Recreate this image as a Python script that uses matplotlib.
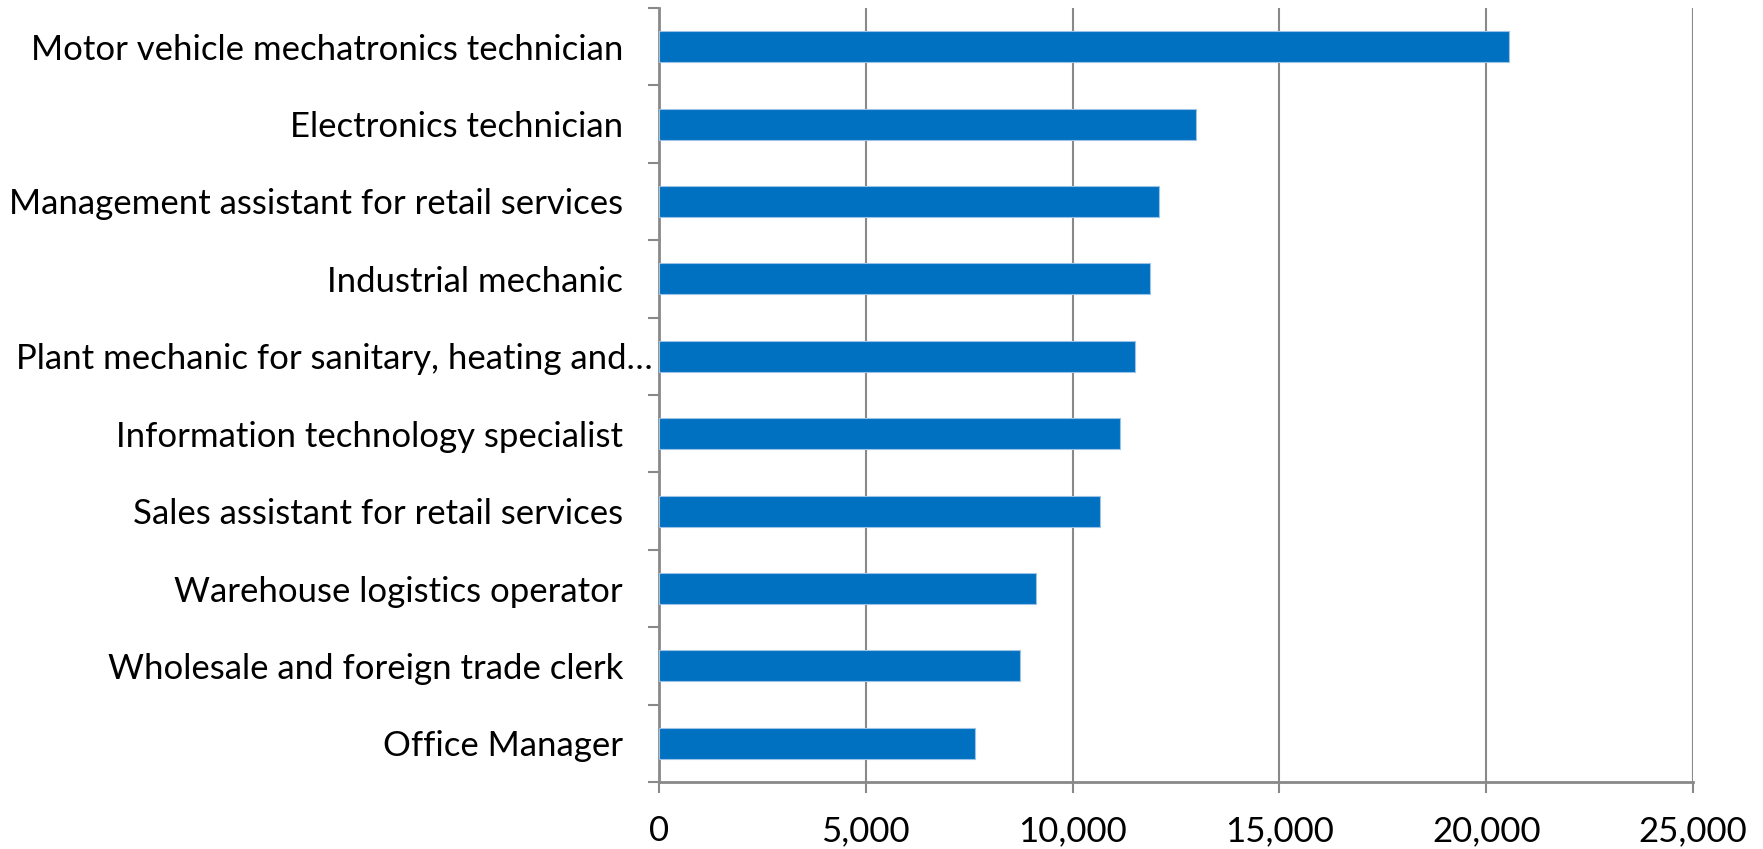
import matplotlib
matplotlib.use("Agg")
import matplotlib.pyplot as plt
import matplotlib.transforms as mtransforms
from matplotlib.ticker import FuncFormatter, FixedLocator

categories = [
    "Motor vehicle mechatronics technician",
    "Electronics technician",
    "Management assistant for retail services",
    "Industrial mechanic",
    "Plant mechanic for sanitary, heating and\u2026",
    "Information technology specialist",
    "Sales assistant for retail services",
    "Warehouse logistics operator",
    "Wholesale and foreign trade clerk",
    "Office Manager",
]
values = [20556, 12995, 12081, 11863, 11500, 11137, 10667, 9116, 8730, 7645]
x_ticks = [0, 5000, 10000, 15000, 20000, 25000]

W, H = 1763, 849
fig = plt.figure(figsize=(W / 100, H / 100), dpi=100)
ax = fig.add_axes([659 / W, (H - 782) / H, 1034 / W, 774 / H])

grey = "#898989"
font = "Lato"
fs = 25

pos = list(range(len(categories)))
ax.barh(pos, values, height=0.4, color="#0070C0", edgecolor="#9CC3E6", linewidth=0.8, zorder=3)

ax.set_xlim(0, 25000)
ax.set_ylim(len(categories) - 0.5, -0.5)
ax.xaxis.set_major_locator(FixedLocator(x_ticks))
ax.xaxis.set_major_formatter(FuncFormatter(lambda v, p: f"{int(v):,}"))
ax.grid(axis="x", color=grey, linewidth=1.5, zorder=0)

ax.set_yticks(pos)
ax.set_yticklabels(categories, fontfamily=font, fontsize=fs)
ax.set_yticks([p - 0.5 for p in pos] + [len(pos) - 0.5], minor=True)
ax.tick_params(axis="y", which="major", length=0, pad=26)
ax.tick_params(axis="y", which="minor", length=8, width=1.5, color=grey)
ax.tick_params(axis="x", which="major", length=8, width=1.5, color=grey, pad=16,
               labelsize=fs)
for lab in ax.get_xticklabels():
    lab.set_fontfamily(font)

# truncated label sits closer to the axis, as in the reference
lab = ax.get_yticklabels()[4]
lab.set_transform(lab.get_transform() + mtransforms.ScaledTranslation(0.30, 0, fig.dpi_scale_trans))

for s in ["top", "right"]:
    ax.spines[s].set_visible(False)
for s in ["left", "bottom"]:
    ax.spines[s].set_color(grey)
    ax.spines[s].set_linewidth(2)

fig.savefig("out.png", dpi=100, facecolor="white")
